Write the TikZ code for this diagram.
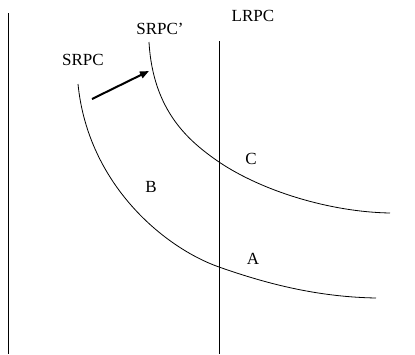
\documentclass[tikz,border=0pt]{standalone}
\usepackage{fontspec}
\setmainfont{Liberation Serif}
\usetikzlibrary{arrows.meta}
\begin{document}
\begin{tikzpicture}[x=1pt,y=-1pt,
  curve/.style={line width=0.8pt},
  axisline/.style={line width=0.9pt},
  lbl/.style={font=\fontsize{17}{17}\selectfont, inner sep=0pt}]
\useasboundingbox[fill=white] (0,0) rectangle (415,354);
% axes
\coordinate (ytop) at (8,13);
\coordinate (ybot) at (8,354);
\draw[axisline] (ytop) -- (ybot);
\coordinate (ltop) at (219,41);
\coordinate (lbot) at (219,354);
\draw[axisline] (ltop) -- (lbot);
% SRPC
\coordinate (s0) at (78,84);
\coordinate (sA) at (219,267);
\coordinate (s1) at (376,298);
\draw[curve] (s0) .. controls (88,185) and (165,248) .. (sA)
  .. controls (270,285) and (320,297) .. (s1);
% SRPC'
\coordinate (t0) at (149,42);
\coordinate (tC) at (219,162);
\coordinate (t1) at (390,213);
\draw[curve] (t0) .. controls (153,112) and (190,142) .. (tC)
  .. controls (262,191) and (330,212) .. (t1);
% arrow
\coordinate (a0) at (92,99);
\coordinate (a1) at (149,71);
\draw[line width=2pt,-{Triangle[length=9pt,width=7pt]}] (a0) -- (a1);
% labels
\node[lbl] (lrpc) at (253,16) {LRPC};
\node[lbl] (srpcp) at (160,29) {SRPC’};
\node[lbl] (srpc) at (83,60) {SRPC};
\node[lbl] (C) at (251,159) {C};
\node[lbl] (B) at (151,187) {B};
\node[lbl] (A) at (253,259) {A};
\end{tikzpicture}
\end{document}
